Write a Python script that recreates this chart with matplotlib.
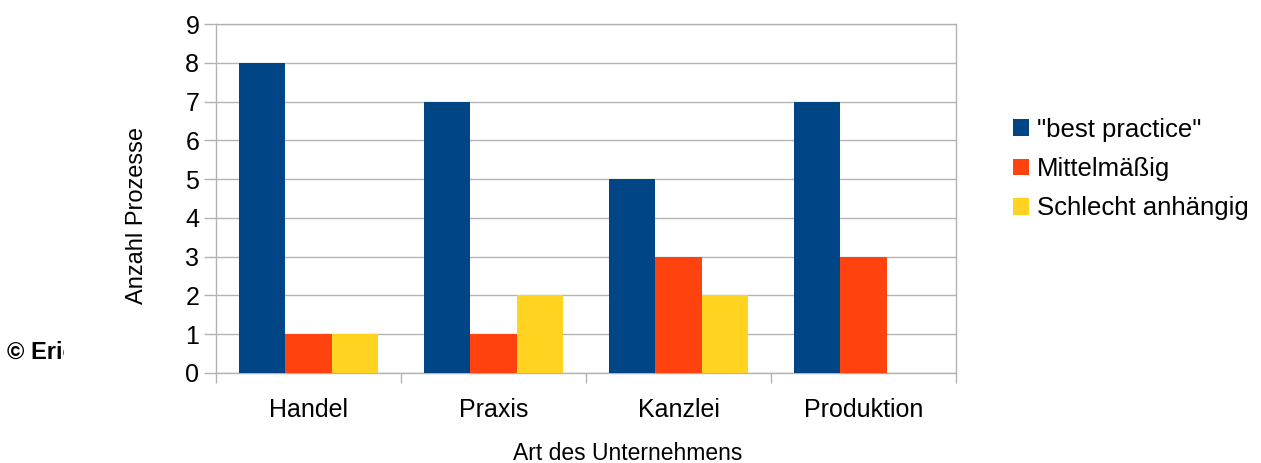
import matplotlib
matplotlib.use("Agg")
import matplotlib.pyplot as plt
from matplotlib.transforms import Bbox
from matplotlib.patches import Patch
import numpy as np

categories = ["Handel", "Praxis", "Kanzlei", "Produktion"]
series_names = ['"best practice"', "Mittelmäßig", "Schlecht anhängig"]
best_practice = [8, 7, 5, 7]
mittelmaessig = [1, 1, 3, 3]
schlecht = [1, 2, 2, 0]
colors = ["#004586", "#ff420e", "#ffd320"]

plt.rcParams['font.family'] = ['Liberation Sans', 'DejaVu Sans']

W, H = 1261, 463
fig = plt.figure(figsize=(W / 100, H / 100), dpi=100)
ax = fig.add_axes([216 / W, (H - 373) / H, (956 - 216) / W, (373 - 24) / H])

x = np.arange(len(categories))
bw = 0.25
for i, (vals, c) in enumerate(zip([best_practice, mittelmaessig, schlecht], colors)):
    ax.bar(x + (i - 1) * bw, vals, width=bw, color=c, zorder=3, linewidth=0)

grid_c = "#b3b3b3"
ax.set_xlim(-0.5, 3.5)
ax.set_ylim(0, 9)
ax.set_yticks(range(0, 10))
ax.yaxis.grid(True, color=grid_c, linewidth=1, zorder=0)
ax.set_xticks(x)
ax.set_xticklabels(categories, fontsize=18)
ax.set_xticks(np.arange(-0.5, 4.0, 1.0), minor=True)
ax.tick_params(axis='x', which='major', length=0, pad=18)
ax.tick_params(axis='x', which='minor', length=7, color=grid_c, width=1)
ax.tick_params(axis='y', length=9, color=grid_c, width=1, labelsize=18, pad=3)
for s in ax.spines.values():
    s.set_color(grid_c)
    s.set_linewidth(1)

ax.set_ylabel("Anzahl Prozesse", fontsize=17)
ax.yaxis.set_label_coords((137 - 216) / (956 - 216), 1 - (216 - 24) / (373 - 24))
ax.set_xlabel("Art des Unternehmens", fontsize=16.5)
ax.xaxis.set_label_coords((628 - 216) / (956 - 216), -(454 - 373) / (373 - 24))
ax.xaxis.label.set_va('center')
ax.yaxis.label.set_va('center')

handles = [Patch(facecolor=c, edgecolor='none') for c in colors]
fig.legend(handles, series_names, loc='center left', bbox_to_anchor=(1013 / W, 1 - 169 / H),
           frameon=False, fontsize=18.5, handlelength=0.62, handleheight=0.62,
           handletextpad=0.3, labelspacing=0.6, borderpad=0, borderaxespad=0)

t = fig.text(7 / W, 1 - 352 / H, "© Eric", fontsize=17, fontweight='bold', va='center', ha='left')
t.set_clip_box(Bbox.from_extents(0, 0, 64, H))
t.set_clip_on(True)

fig.savefig("out.png", dpi=100)
